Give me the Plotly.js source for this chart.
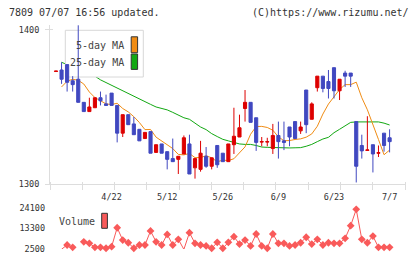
<!DOCTYPE html>
<html>
<head>
<meta charset="utf-8">
<script src="https://cdn.plot.ly/plotly-3.0.1.min.js"></script>
<style>
html,body{margin:0;padding:0;background:#fff;}
#chart{width:420px;height:259px;}
</style>
</head>
<body>
<div id="chart"></div>
<script>
// Daily prices for 7809, one entry per trading session, oldest first
const openPx = [
  1373, 1374, 1377.5, 1367, 1368, 1353, 1347, 1349.5, 1356, 1352,
  1359, 1351, 1333, 1345, 1339, 1335.5, 1329.5, 1334, 1320.5, 1326,
  1321, 1316.5, 1316, 1319.5, 1326, 1310.5, 1309.5, 1318, 1311.5, 1325,
  1320, 1314.5, 1325.5, 1330.5, 1349, 1353, 1343, 1327.2, 1327.2, 1323,
  1331.5, 1328, 1337, 1340.5, 1334.5, 1361, 1342, 1362.5, 1370, 1366.5,
  1375.5, 1360.5, 1372, 1372, 1340.5, 1325, 1321.8, 1325.5, 1320, 1333,
  1330];
const highPx = [
  1373.3, 1379, 1377.5, 1370, 1403, 1353, 1356, 1356, 1360, 1358,
  1359, 1351, 1345, 1345, 1343.5, 1335.5, 1333.5, 1334, 1325.5, 1326,
  1321, 1329.5, 1318, 1331.5, 1332, 1316.5, 1328, 1324, 1317, 1325,
  1320, 1326, 1349.5, 1345, 1361, 1353, 1343, 1330.5, 1330, 1339,
  1340.5, 1340.5, 1337, 1340.5, 1340.5, 1361, 1353, 1370, 1370, 1374,
  1375.5, 1368, 1373.5, 1372, 1340.5, 1332, 1344, 1325.5, 1325, 1333,
  1335.5];
const lowPx = [
  1373, 1365, 1360, 1360, 1353, 1347, 1347, 1349.5, 1351, 1351,
  1351, 1327, 1330.5, 1338.5, 1332, 1328, 1329.5, 1320, 1320.5, 1320,
  1309.5, 1314.5, 1306.5, 1319.5, 1306.5, 1303.5, 1308, 1310.5, 1309.5, 1310.5,
  1314.5, 1314.5, 1319.5, 1330.5, 1340.5, 1340, 1321.5, 1324.5, 1324.5, 1319.5,
  1316.5, 1322, 1324.5, 1329.5, 1332.5, 1333, 1342, 1360, 1359.5, 1355.5,
  1355.5, 1354.5, 1363, 1363, 1301, 1316.5, 1321.8, 1307.5, 1317.5, 1321,
  1320.5];
const closePx = [
  1373.3, 1368, 1366, 1364.5, 1353, 1347, 1350, 1356, 1354, 1351,
  1351, 1333, 1345, 1338.5, 1332, 1328, 1333.5, 1320, 1325.5, 1320,
  1316, 1314.5, 1318, 1330, 1306.5, 1316.5, 1320, 1311.5, 1317, 1312.5,
  1314.5, 1326, 1331, 1336.5, 1353, 1340, 1327, 1327.5, 1327.5, 1331.5,
  1327.5, 1327, 1330.5, 1329.5, 1337, 1338.5, 1352, 1370, 1362, 1362,
  1360.5, 1368, 1370, 1370, 1311.5, 1321.5, 1322.1, 1319.5, 1320.3, 1325,
  1327.5];

// Moving averages
const ma5 = [
  null, 1363, 1366.7, 1368, 1367.3, 1364.9, 1359.7, 1356.1, 1354.1, 1352,
  1351.6, 1352.4, 1349, 1346.8, 1343.7, 1339.9, 1335.3, 1335.4, 1330.4, 1327.8,
  1325.4, 1323, 1319.2, 1318.9, 1319.8, 1317.1, 1317.2, 1318.3, 1317, 1314.4,
  1315.5, 1315.2, 1316.4, 1320.2, 1324.1, 1332.3, 1337.3, 1337.4, 1336.7, 1334.9,
  1330.6, 1328.1, 1328.2, 1328.9, 1329.3, 1330.4, 1332.5, 1337.5, 1345.4, 1351.9,
  1356.9, 1361.3, 1364.5, 1364.5, 1366.1, 1356, 1348.2, 1339, 1328.9, 1319,
  1322];
const ma25 = [
  null, 1379, 1377.5, 1376, 1374.5, 1373, 1371.5, 1370, 1367.6, 1365.8,
  1363.8, 1362.3, 1360.2, 1358.5, 1356.6, 1355.2, 1353.4, 1351.7, 1350, 1349,
  1348.1, 1346.5, 1344.5, 1343, 1342, 1339.2, 1337, 1335.3, 1332.7, 1330.8,
  1329, 1328, 1326.8, 1326, 1325.7, 1325.7, 1325, 1324, 1323.8, 1323.6,
  1323.5, 1323.4, 1323.4, 1323.5, 1323.6, 1324.5, 1325.7, 1327.5, 1329.2, 1330.3,
  1333.3, 1335.5, 1338, 1340, 1340.3, 1340.3, 1340.3, 1340.3, 1340.3, 1339.5,
  1338.3];

// Daily volume (null: no point drawn for that session)
const volume = [
  null, 2400, 4600, 3400, null, 6300, 5500, 3400, 3400, 2900,
  3700, 13700, 7200, 5800, 2900, 4600, 4600, 12000, 6300, 4600,
  10200, 4600, 7600, 2300, 11100, 5500, 4600, 4100, 2900, 6000,
  2900, 6000, 9000, 5100, 7200, 4100, 10400, 4100, 2900, 10400,
  5500, 5500, 4100, 4600, 5800, 8700, 5100, 7600, 4600, 5800,
  5500, 5500, 8100, 14800, 23400, 7600, 5800, 9300, 3400, 3400,
  3400];

// Axis labels
const dateLabels = ['4/22', '5/12', '5/26', '6/9', '6/23', '7/7'];
const dateIdx = [10, 20, 30, 40, 50, 60];
const priceTicks = [1300, 1400];
const volumeTicks = [2500, 13300, 24100];

const sessions = openPx.map((_, i) => i);

// ---- geometry helpers (page pixels -> paper fractions) ----
const W = 420, H = 259;
const M = {l: 50, r: 15, t: 25, b: 10};
const PW = W - M.l - M.r, PH = H - M.t - M.b;
const px = x => (x - M.l) / PW;
const py = y => (H - M.b - y) / PH;

const xr = [-1.08, 62.77];
const yr = [1300, 1403.2];
const volRange = [2500, 24100];

const mono = 'DejaVu Sans Mono, monospace';
const RED = '#dd0000', BLUE = '#4048c0', ORANGE = '#f08c14', GREEN = '#12a812', VOL = '#f95a5a';
const AXIS = '#dddddd';

// plot-area pixel frame used for the legend box subplot
const frameX = [M.l, W - M.r];
const frameY = [184, M.t];
const tickStep = (frameX[1] - frameX[0]) / 11;
const frameTicks = Array.from({length: 12}, (_, k) => frameX[0] + k * tickStep);

// legend frame outline (pixel units of the frame subplot)
const lg = {x0: 65.3, x1: 143.3, y0: 30.3, y1: 77};

const traces = [
  {type: 'scatter', mode: 'lines', x: sessions, y: ma25, xaxis: 'x', yaxis: 'y',
   line: {color: GREEN, width: 1}, hoverinfo: 'skip', showlegend: false},
  {type: 'scatter', mode: 'lines', x: sessions, y: ma5, xaxis: 'x', yaxis: 'y',
   line: {color: ORANGE, width: 1}, hoverinfo: 'skip', showlegend: false},
  {type: 'scatter', mode: 'lines', xaxis: 'x5', yaxis: 'y5',
   x: [lg.x0, lg.x1, lg.x1, lg.x0, lg.x0], y: [lg.y1, lg.y1, lg.y0, lg.y0, lg.y1],
   fill: 'toself', fillcolor: '#ffffff', line: {color: '#d8d8d8', width: 1},
   hoverinfo: 'skip', showlegend: false},
  {type: 'candlestick', x: sessions, open: openPx, high: highPx, low: lowPx, close: closePx,
   xaxis: 'x6', yaxis: 'y6', whiskerwidth: 0,
   increasing: {line: {color: RED, width: 1}, fillcolor: RED},
   decreasing: {line: {color: BLUE, width: 1}, fillcolor: BLUE},
   hoverinfo: 'skip', showlegend: false},
  {type: 'scatter', mode: 'lines+markers', x: sessions, y: volume, xaxis: 'x2', yaxis: 'y2',
   line: {color: VOL, width: 1}, marker: {symbol: 'diamond', size: 6, color: VOL},
   connectgaps: false, cliponaxis: false, hoverinfo: 'skip', showlegend: false}
];

const mainDom = [py(184), 1];
const volDom = [0, py(208)];
const tickFont = {family: mono, size: 8.5, color: '#333'};

const layout = {
  width: W, height: H,
  margin: M,
  paper_bgcolor: '#fff', plot_bgcolor: '#fff',
  showlegend: false,
  boxgap: 0.2,
  xaxis: {domain: [0, 1], anchor: 'y', range: xr, showgrid: false, zeroline: false,
          showline: true, linecolor: AXIS, linewidth: 1,
          tickmode: 'array', tickvals: dateIdx, ticktext: dateLabels, ticks: '',
          tickfont: tickFont, ticklabelstandoff: 5, fixedrange: true},
  yaxis: {domain: mainDom, anchor: 'x', range: yr, showgrid: false, zeroline: false,
          showline: true, linecolor: AXIS, linewidth: 1,
          tickmode: 'array', tickvals: priceTicks, ticktext: priceTicks.map(String), ticks: '',
          tickfont: tickFont, ticklabelstandoff: 8, fixedrange: true},
  xaxis2: {domain: [0, 1], anchor: 'y2', range: xr, visible: false, fixedrange: true},
  yaxis2: {domain: volDom, anchor: 'x2', range: volRange, showgrid: false, zeroline: false,
           showline: false, tickmode: 'array', tickvals: volumeTicks,
           ticktext: volumeTicks.map(String), ticks: '', tickfont: tickFont,
           ticklabelstandoff: 4, fixedrange: true},
  // frame subplot in page pixels: legend box + bottom tick marks
  xaxis5: {overlaying: 'x', anchor: 'free', position: py(181), side: 'bottom', range: frameX,
           showgrid: false, zeroline: false, showline: false, showticklabels: false,
           tickmode: 'array', tickvals: frameTicks, ticks: 'outside', ticklen: 8,
           tickcolor: AXIS, tickwidth: 1, fixedrange: true},
  yaxis5: {overlaying: 'y', anchor: 'x5', range: frameY, visible: false, fixedrange: true},
  // candle subplot, same scales as the main one; carries the left tick marks
  xaxis6: {overlaying: 'x', anchor: 'y6', range: xr, visible: false, fixedrange: true,
           rangeslider: {visible: false}},
  yaxis6: {overlaying: 'y', anchor: 'free', position: px(53), side: 'left', range: yr,
           showgrid: false, zeroline: false, showline: false, showticklabels: false,
           tickmode: 'array', tickvals: priceTicks, ticks: 'outside', ticklen: 8,
           tickcolor: AXIS, tickwidth: 1, fixedrange: true},
  shapes: [
    {type: 'rect', xref: 'paper', yref: 'paper', layer: 'above',
     x0: px(131.2), x1: px(137.6), y0: py(52.7), y1: py(36.8),
     fillcolor: ORANGE, line: {color: '#333', width: 1}},
    {type: 'rect', xref: 'paper', yref: 'paper', layer: 'above',
     x0: px(131.2), x1: px(137.6), y0: py(69.4), y1: py(54),
     fillcolor: GREEN, line: {color: '#333', width: 1}},
    {type: 'rect', xref: 'paper', yref: 'paper', layer: 'above',
     x0: px(101.7), x1: px(107.4), y0: py(228.3), y1: py(213.3),
     fillcolor: VOL, line: {color: '#333', width: 1}}
  ],
  annotations: [
    {xref: 'paper', yref: 'paper', x: px(7), y: py(12), xanchor: 'left', yanchor: 'middle',
     text: '7809 07/07 16:56 updated.', showarrow: false, font: {family: mono, size: 10, color: '#333'}},
    {xref: 'paper', yref: 'paper', x: px(411), y: py(12), xanchor: 'right', yanchor: 'middle',
     text: '(C)https://www.rizumu.net/', showarrow: false, font: {family: mono, size: 10, color: '#333'}},
    {xref: 'paper', yref: 'paper', x: px(126), y: py(45.5), xanchor: 'right', yanchor: 'middle',
     text: '5-day MA', showarrow: false, font: {family: mono, size: 10, color: '#444'}},
    {xref: 'paper', yref: 'paper', x: px(126), y: py(63), xanchor: 'right', yanchor: 'middle',
     text: '25-day MA', showarrow: false, font: {family: mono, size: 10, color: '#444'}},
    {xref: 'paper', yref: 'paper', x: px(57), y: py(221.5), xanchor: 'left', yanchor: 'middle',
     text: 'Volume', showarrow: false, font: {family: mono, size: 10, color: '#444'}}
  ]
};

Plotly.newPlot('chart', traces, layout, {staticPlot: true, displayModeBar: false});
</script>
</body>
</html>
